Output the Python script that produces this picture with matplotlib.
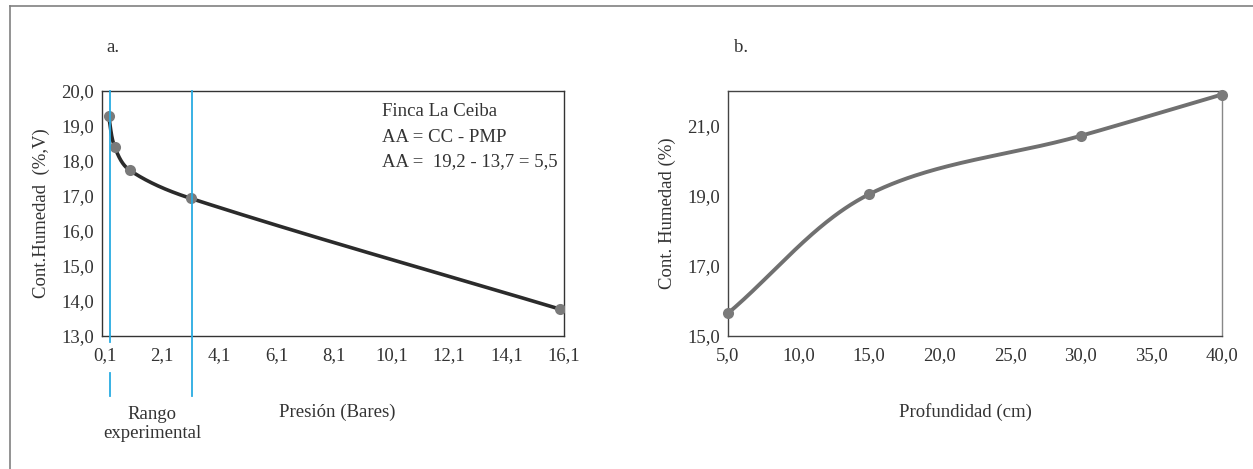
import numpy as np
import matplotlib
matplotlib.use("Agg")
import matplotlib.pyplot as plt
from matplotlib.lines import Line2D
import matplotlib.transforms as mtransforms

plt.rcParams['font.family'] = ['Liberation Serif', 'DejaVu Serif']

# Panel a data
presion = [0.23, 0.44, 0.96, 3.1, 15.95]
humedad_a = [19.29, 18.41, 17.74, 16.93, 13.77]
rango_exp = [0.29, 3.13]
xticks_a = [0.1, 2.1, 4.1, 6.1, 8.1, 10.1, 12.1, 14.1, 16.1]
yticks_a = [13, 14, 15, 16, 17, 18, 19, 20]

# Panel b data
profundidad = [5.0, 15.0, 30.0, 40.0]
humedad_b = [15.65, 19.05, 20.72, 21.9]
xticks_b = [5, 10, 15, 20, 25, 30, 35, 40]
yticks_b = [15, 17, 19, 21]

TXT = '#333333'
FS = 13.5


def smooth(xs, ys, sx, sy, n=80):
    # Hermite smoothing in screen-like space, tangent length scaled per segment
    P = np.column_stack([np.asarray(xs) * sx, np.asarray(ys) * sy])
    m = len(P)
    dirs = []
    for i in range(m):
        a = P[i - 1] if i > 0 else P[i]
        b = P[i + 1] if i < m - 1 else P[i]
        d = b - a
        dirs.append(d / np.linalg.norm(d))
    out = []
    for i in range(m - 1):
        p1, p2 = P[i], P[i + 1]
        L = np.linalg.norm(p2 - p1) / 3.0
        c1 = p1 + dirs[i] * L
        c2 = p2 - dirs[i + 1] * L
        t = np.linspace(0, 1, n)[:, None]
        seg = ((1 - t) ** 3) * p1 + 3 * ((1 - t) ** 2) * t * c1 + 3 * (1 - t) * t ** 2 * c2 + t ** 3 * p2
        out.append(seg if i == 0 else seg[1:])
    out = np.vstack(out)
    return out[:, 0] / sx, out[:, 1] / sy


def fmt(v, d=1):
    return f"{v:.{d}f}".replace('.', ',')


W, H = 1253, 469
fig = plt.figure(figsize=(W / 100, H / 100), dpi=100)

# outer frame (left and top lines)
fig.add_artist(Line2D([10 / W, 10 / W], [0, 1 - 6 / H], transform=fig.transFigure, color='#808080', lw=1.2))
fig.add_artist(Line2D([10 / W, 1], [1 - 6 / H, 1 - 6 / H], transform=fig.transFigure, color='#808080', lw=1.2))

# ---------- Panel a ----------
ax = fig.add_axes([102 / W, 1 - 336 / H, 462 / W, 245 / H])
ax.set_xlim(0, 16.1)
ax.set_ylim(13, 20)
xs, ys = smooth(presion, humedad_a, 462 / 16.1, 35.0)
ax.plot(xs, ys, color='#2b2b2b', lw=2.6, solid_capstyle='round', zorder=3)
ax.plot(presion, humedad_a, 'o', color='#7a7a7a', ms=8, mec='none', zorder=4)

trans = mtransforms.blended_transform_factory(ax.transData, ax.transAxes)
blue = '#29ABE2'
x1, x2 = rango_exp
ax.plot([x1, x1], [1, -0.0245], color=blue, lw=1.3, transform=trans, clip_on=False, zorder=5)
ax.plot([x1, x1], [-0.151, -0.245], color=blue, lw=1.3, transform=trans, clip_on=False, zorder=5)
ax.plot([x2, x2], [1, -0.245], color=blue, lw=1.3, transform=trans, clip_on=False, zorder=5)

ax.set_xticks(xticks_a)
ax.set_xticklabels([fmt(v) for v in xticks_a])
ax.set_yticks(yticks_a)
ax.set_yticklabels([fmt(v) for v in yticks_a])
ax.tick_params(length=0, labelsize=FS, labelcolor=TXT, pad=6)
ax.tick_params(axis='x', pad=8)
for s in ax.spines.values():
    s.set_color('#333333')
    s.set_linewidth(1.0)
ax.set_ylabel('Cont.Humedad  (%,V)', fontsize=FS, color=TXT, labelpad=8)

fig.text(106 / W, 1 - 48 / H, 'a.', fontsize=FS, color=TXT, ha='left', va='center')
fig.text(382 / W, 1 - 112 / H, 'Finca La Ceiba', fontsize=FS, color=TXT, ha='left', va='center')
fig.text(382 / W, 1 - 137 / H, 'AA = CC - PMP', fontsize=FS, color=TXT, ha='left', va='center')
fig.text(382 / W, 1 - 162 / H, 'AA =  19,2 - 13,7 = 5,5', fontsize=FS, color=TXT, ha='left', va='center')
fig.text(337 / W, 1 - 412 / H, 'Presión (Bares)', fontsize=FS, color=TXT, ha='center', va='center')
fig.text(152 / W, 1 - 424 / H, 'Rango\nexperimental', fontsize=FS, color=TXT, ha='center', va='center',
         linespacing=1.2)

# ---------- Panel b ----------
bx = fig.add_axes([728 / W, 1 - 336 / H, 494 / W, 245 / H])
bx.set_xlim(5, 40)
bx.set_ylim(15, 22)
xs, ys = smooth(profundidad, humedad_b, 494 / 35.0, 35.0)
bx.plot(xs, ys, color='#707070', lw=2.8, solid_capstyle='round', zorder=3)
bx.plot(profundidad, humedad_b, 'o', color='#7a7a7a', ms=8, mec='none', zorder=4, clip_on=False)
bx.set_xticks(xticks_b)
bx.set_xticklabels([fmt(v) for v in xticks_b])
bx.set_yticks(yticks_b)
bx.set_yticklabels([fmt(v) for v in yticks_b])
bx.tick_params(length=0, labelsize=FS, labelcolor=TXT, pad=6)
bx.tick_params(axis='x', pad=8)
for s in bx.spines.values():
    s.set_color('#444444')
    s.set_linewidth(1.0)
bx.spines['right'].set_color('#888888')
bx.set_ylabel('Cont. Humedad (%)', fontsize=FS, color=TXT, labelpad=8)

fig.text(734 / W, 1 - 48 / H, 'b.', fontsize=FS, color=TXT, ha='left', va='center')
fig.text(965 / W, 1 - 412 / H, 'Profundidad (cm)', fontsize=FS, color=TXT, ha='center', va='center')

fig.savefig('out.png', dpi=100)
